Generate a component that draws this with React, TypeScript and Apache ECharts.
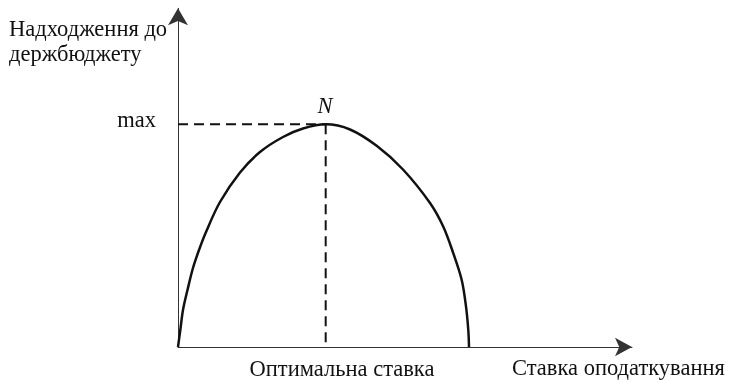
import React, { useEffect, useRef } from "react";
import * as echarts from "echarts";

// Laffer curve points: [tax rate, budget revenue] (arbitrary units)
const curveX = [0, 0.51, 1.1, 2.09, 3.3, 4.63, 6.17, 9.25, 13.66, 18.06, 23.13, 27.53, 32.53, 37.89, 43.83, 49.56, 55.51, 58.44, 60.64, 62.49, 63.44, 63.94, 64.1];
const curveY = [0, 5.02, 10.92, 16.83, 23.32, 28.64, 33.95, 42.81, 51.52, 57.57, 62.0, 64.51, 65.75, 64.22, 59.34, 52.41, 42.52, 35.52, 27.66, 19.78, 11.9, 5.02, 0];
const optimalRate = 32.53;
const maxRevenue = 65.75;

const yTitleLines = ["Надходження до", "держбюджету"];
const xTitle = "Ставка оподаткування";
const maxLabel = "max";
const optimalLabel = "Оптимальна ставка";
const peakLabel = "N";

const FONT = "'Liberation Serif', 'Times New Roman', serif";
const FS = 22.5;

export default function App() {
  const ref = useRef<HTMLDivElement>(null);
  useEffect(() => {
    if (!ref.current) return;
    const chart = echarts.init(ref.current, null, { renderer: "svg" });
    const curve = curveX.map((x, i) => [x, curveY[i]]);
    const txt = (text: string, x: number, y: number, align: string, italic = false) => ({
      type: "text",
      x,
      y,
      style: {
        text,
        font: `${italic ? "italic " : ""}${FS}px ${FONT}`,
        fill: "#111",
        align,
        verticalAlign: "middle",
      },
    });
    chart.setOption({
      animation: false,
      grid: { left: 178, right: 101, top: 8.3, bottom: 33 },
      xAxis: {
        type: "value",
        min: 0,
        max: 100,
        axisLine: {
          show: true,
          symbol: ["none", "arrow"],
          symbolSize: [14, 17],
          lineStyle: { color: "#333", width: 1 },
        },
        axisTick: { show: false },
        axisLabel: { show: false },
        splitLine: { show: false },
      },
      yAxis: {
        type: "value",
        min: 0,
        max: 100,
        axisLine: {
          show: true,
          symbol: ["none", "arrow"],
          symbolSize: [15, 17],
          lineStyle: { color: "#333", width: 1 },
        },
        axisTick: { show: false },
        axisLabel: { show: false },
        splitLine: { show: false },
      },
      series: [
        {
          type: "line",
          data: curve,
          smooth: 0.35,
          symbol: "none",
          lineStyle: { color: "#111", width: 2.5 },
          z: 3,
        },
        {
          type: "line",
          data: [
            [0, maxRevenue],
            [optimalRate, maxRevenue],
          ],
          symbol: "none",
          lineStyle: { color: "#111", width: 2, type: [10, 6] },
          z: 2,
        },
        {
          type: "line",
          data: [
            [optimalRate, maxRevenue],
            [optimalRate, 0],
          ],
          symbol: "none",
          lineStyle: { color: "#111", width: 2, type: [10, 6] },
          z: 2,
        },
      ],
      graphic: [
        txt(yTitleLines[0], 9, 28.4, "left"),
        txt(yTitleLines[1], 9, 53.4, "left"),
        txt(maxLabel, 156, 119.4, "right"),
        txt(peakLabel, 325, 105.4, "center", true),
        txt(optimalLabel, 342, 368.5, "center"),
        txt(xTitle, 512, 367.4, "left"),
      ],
    });
    return () => chart.dispose();
  }, []);
  return <div ref={ref} style={{ width: 733, height: 380, position: "fixed", left: 0, top: 0 }} />;
}
